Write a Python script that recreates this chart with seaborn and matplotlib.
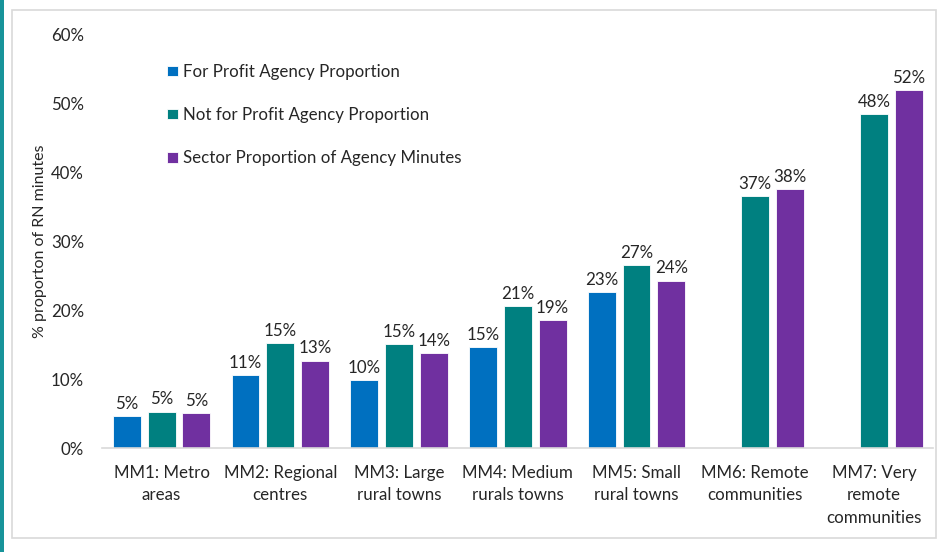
import numpy as np
import pandas as pd
import matplotlib
matplotlib.use("Agg")
import matplotlib.pyplot as plt
import seaborn as sns
from matplotlib.patches import Rectangle

# values (% of RN minutes)
categories = ["MM1: Metro\nareas", "MM2: Regional\ncentres", "MM3: Large\nrural towns",
              "MM4: Medium\nrurals towns", "MM5: Small\nrural towns",
              "MM6: Remote\ncommunities", "MM7: Very\nremote\ncommunities"]
for_profit = [4.7, 10.6, 9.9, 14.6, 22.6, np.nan, np.nan]
not_for_profit = [5.3, 15.2, 15.1, 20.6, 26.6, 36.6, 48.4]
sector = [5.1, 12.7, 13.8, 18.6, 24.3, 37.6, 51.9]

series = ["For Profit Agency Proportion", "Not for Profit Agency Proportion",
          "Sector Proportion of Agency Minutes"]
colors = ["#0070C0", "#008080", "#7030A0"]

df = pd.DataFrame({
    "cat": categories * 3,
    "series": [series[0]] * 7 + [series[1]] * 7 + [series[2]] * 7,
    "value": for_profit + not_for_profit + sector,
})

sns.set_style("white")
plt.rcParams["font.family"] = ["Lato", "DejaVu Sans"]
fs = 12.2

fig = plt.figure(figsize=(9.38, 5.52), dpi=100)
ax = fig.add_axes([0.109, 0.188, 0.886, 0.750])

sns.barplot(data=df, x="cat", y="value", hue="series", order=categories,
            hue_order=series, palette=colors, saturation=1, width=0.88, gap=0.2,
            edgecolor="white", linewidth=0.6, errorbar=None, ax=ax)

for c in ax.containers:
    labels = ["" if np.isnan(v) else f"{v:.0f}%" for v in c.datavalues]
    ax.bar_label(c, labels=labels, padding=3, fontsize=fs, color="#262626")

ax.set_ylim(0, 60)
ax.set_xlim(-0.5, 6.5)
ax.set_yticks(range(0, 61, 10))
ax.set_yticklabels([f"{t}%" for t in range(0, 61, 10)])
ax.tick_params(axis="y", length=0, pad=13, labelsize=fs, labelcolor="#262626")
ax.tick_params(axis="x", length=0, pad=12, labelsize=fs, labelcolor="#262626")
for lab in ax.get_xticklabels():
    lab.set_linespacing(1.5)
ax.set_xlabel("")
ax.set_ylabel("% proporton of RN minutes", fontsize=11.5, color="#262626", labelpad=3)

for s in ["top", "right", "left"]:
    ax.spines[s].set_visible(False)
ax.spines["bottom"].set_color("#D9D9D9")
ax.spines["bottom"].set_linewidth(1.2)

leg = ax.legend(loc="upper left", bbox_to_anchor=(0.060, 0.965), frameon=False,
                fontsize=fs, labelspacing=1.6, handlelength=0.6, handleheight=0.6,
                handletextpad=0.3, labelcolor="#262626")

# outer chart border and teal side strip
fig.patches.append(Rectangle((12 / 938, 1 - 538 / 552), 924 / 938, 528 / 552,
                             transform=fig.transFigure, fill=False,
                             edgecolor="#D9D9D9", linewidth=1.2))
fig.patches.append(Rectangle((0, 0), 4 / 938, 1, transform=fig.transFigure,
                             facecolor="#17949A", edgecolor="none"))

fig.savefig("out.png", dpi=100)
